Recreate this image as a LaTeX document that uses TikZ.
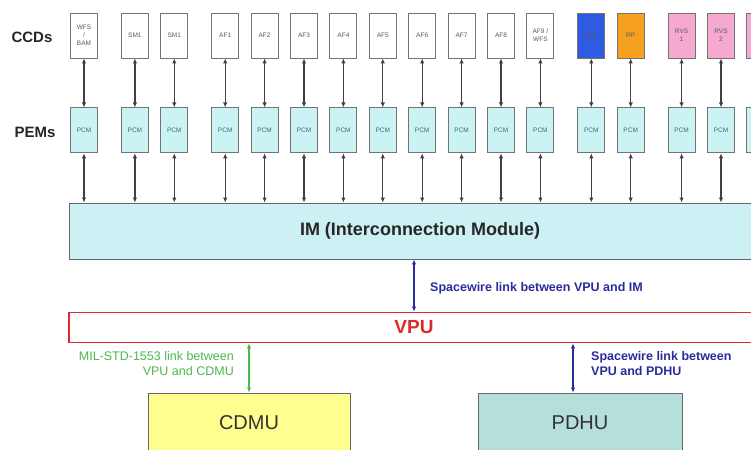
\documentclass[tikz,border=0pt]{standalone}
\usepackage{fontspec}
\setmainfont{Liberation Sans}
\usetikzlibrary{positioning, arrows.meta}

\definecolor{pcmcyan}{HTML}{CCF3F3}
\definecolor{imcyan}{HTML}{CCF0F3}
\definecolor{bpblue}{HTML}{2F5BE3}
\definecolor{rporange}{HTML}{F5A01E}
\definecolor{rvspink}{HTML}{F5A8D0}
\definecolor{vpured}{HTML}{DD2A2A}
\definecolor{linkblue}{HTML}{2B2B9C}
\definecolor{linkgreen}{HTML}{4CB84C}
\definecolor{cdmuyellow}{HTML}{FFFF90}
\definecolor{pdhuteal}{HTML}{B6DEDB}

\begin{document}
\begin{tikzpicture}[
    x=1pt, y=1pt,
    node distance=11.5pt,
    ccd/.style={
        draw=black!55,
        fill=white,
        line width=0.9pt,
        minimum width=27pt,
        minimum height=45pt,
        inner sep=0pt,
        align=center,
        text=black!65,
        font=\fontsize{6.5}{8}\selectfont
    },
    pcm/.style={ccd, fill=pcmcyan, text=teal!60!black!80},
    rowlabel/.style={font=\fontsize{15}{17}\selectfont\bfseries, text=black!85},
    bigbox/.style={draw=black!60, line width=0.9pt, inner sep=0pt},
    link/.style={{Latex[length=5pt,width=4.5pt]}-{Latex[length=5pt,width=4.5pt]}, draw=black!75, line width=1.2pt},
    note/.style={font=\fontsize{12.5}{15}\selectfont, inner sep=0pt}
]

\useasboundingbox (0,0) rectangle (751,-449);
\clip (0,0) rectangle (751,-449);

% CCD row
\node[ccd] (c1) at (84,-35.5) {WFS\\/\\BAM};
\node[ccd, right=23pt of c1] (c2) {SM1};
\node[ccd, right=of c2] (c3) {SM1};
\node[ccd, right=23pt of c3] (c4) {AF1};
\node[ccd, right=of c4] (c5) {AF2};
\node[ccd, right=of c5] (c6) {AF3};
\node[ccd, right=of c6] (c7) {AF4};
\node[ccd, right=of c7] (c8) {AF5};
\node[ccd, right=of c8] (c9) {AF6};
\node[ccd, right=of c9] (c10) {AF7};
\node[ccd, right=of c10] (c11) {AF8};
\node[ccd, right=of c11] (c12) {AF9 /\\WFS};
\node[ccd, fill=bpblue, right=23pt of c12] (c13) {BP};
\node[ccd, fill=rporange, right=of c13] (c14) {RP};
\node[ccd, fill=rvspink, right=23pt of c14] (c15) {RVS\\1};
\node[ccd, fill=rvspink, right=of c15] (c16) {RVS\\2};
\node[ccd, fill=rvspink, right=of c16] (c17) {RVS\\3};

% PEM row
\node[pcm, below=49pt of c1] (p1) {PCM};
\node[pcm, below=49pt of c2] (p2) {PCM};
\node[pcm, below=49pt of c3] (p3) {PCM};
\node[pcm, below=49pt of c4] (p4) {PCM};
\node[pcm, below=49pt of c5] (p5) {PCM};
\node[pcm, below=49pt of c6] (p6) {PCM};
\node[pcm, below=49pt of c7] (p7) {PCM};
\node[pcm, below=49pt of c8] (p8) {PCM};
\node[pcm, below=49pt of c9] (p9) {PCM};
\node[pcm, below=49pt of c10] (p10) {PCM};
\node[pcm, below=49pt of c11] (p11) {PCM};
\node[pcm, below=49pt of c12] (p12) {PCM};
\node[pcm, below=49pt of c13] (p13) {PCM};
\node[pcm, below=49pt of c14] (p14) {PCM};
\node[pcm, below=49pt of c15] (p15) {PCM};
\node[pcm, below=49pt of c16] (p16) {PCM};
\node[pcm, below=49pt of c17] (p17) {PCM};

\node[rowlabel] (ccds) at (32,-37) {CCDs};
\node[rowlabel] (pems) at (35,-132) {PEMs};

% modules
\node[bigbox, fill=imcyan, minimum width=702pt, minimum height=56pt,
      font=\fontsize{18}{20}\selectfont\bfseries, text=black!85] (im) at (420,-231)
      {IM (Interconnection Module)};
\node[draw=vpured, line width=1.8pt, fill=white, minimum width=690pt, minimum height=30pt,
      inner sep=0pt, font=\fontsize{19}{21}\selectfont\bfseries, text=vpured] (vpu) at (414,-327.5) {VPU};
\node[bigbox, fill=cdmuyellow, minimum width=202pt, minimum height=60pt,
      font=\fontsize{20}{22}\selectfont, text=black!80] (cdmu) at (249,-423) {CDMU};
\node[bigbox, fill=pdhuteal, minimum width=204pt, minimum height=60pt,
      font=\fontsize{20}{22}\selectfont, text=black!80] (pdhu) at (580,-423) {PDHU};

% CCD to PEM links
\draw[link] (c1.south) -- (p1.north);
\draw[link] (c2.south) -- (p2.north);
\draw[link] (c3.south) -- (p3.north);
\draw[link] (c4.south) -- (p4.north);
\draw[link] (c5.south) -- (p5.north);
\draw[link] (c6.south) -- (p6.north);
\draw[link] (c7.south) -- (p7.north);
\draw[link] (c8.south) -- (p8.north);
\draw[link] (c9.south) -- (p9.north);
\draw[link] (c10.south) -- (p10.north);
\draw[link] (c11.south) -- (p11.north);
\draw[link] (c12.south) -- (p12.north);
\draw[link] (c13.south) -- (p13.north);
\draw[link] (c14.south) -- (p14.north);
\draw[link] (c15.south) -- (p15.north);
\draw[link] (c16.south) -- (p16.north);
\draw[link] (c17.south) -- (p17.north);

% PEM to IM links
\draw[link] (p1.south) -- (p1.south |- im.north);
\draw[link] (p2.south) -- (p2.south |- im.north);
\draw[link] (p3.south) -- (p3.south |- im.north);
\draw[link] (p4.south) -- (p4.south |- im.north);
\draw[link] (p5.south) -- (p5.south |- im.north);
\draw[link] (p6.south) -- (p6.south |- im.north);
\draw[link] (p7.south) -- (p7.south |- im.north);
\draw[link] (p8.south) -- (p8.south |- im.north);
\draw[link] (p9.south) -- (p9.south |- im.north);
\draw[link] (p10.south) -- (p10.south |- im.north);
\draw[link] (p11.south) -- (p11.south |- im.north);
\draw[link] (p12.south) -- (p12.south |- im.north);
\draw[link] (p13.south) -- (p13.south |- im.north);
\draw[link] (p14.south) -- (p14.south |- im.north);
\draw[link] (p15.south) -- (p15.south |- im.north);
\draw[link] (p16.south) -- (p16.south |- im.north);
\draw[link] (p17.south) -- (p17.south |- im.north);

% bus links
\draw[link, draw=linkblue] (vpu.north) -- (vpu.north |- im.south);
\draw[link, draw=linkgreen] (cdmu.north) -- (cdmu.north |- vpu.south);
\draw[link, draw=linkblue] ([xshift=-7pt]pdhu.north) -- ([xshift=-7pt]pdhu.north |- vpu.south);

\node[note, anchor=west, text=linkblue, font=\fontsize{12.5}{15}\selectfont\bfseries] (imlink) at (430,-288)
    {Spacewire link between VPU and IM};
\node[note, anchor=east, align=right, text=linkgreen] (cdmulink) at (234,-363.5)
    {MIL-STD-1553 link between\\VPU and CDMU};
\node[note, anchor=west, align=left, text=linkblue, font=\fontsize{12.5}{15}\selectfont\bfseries] (pdhulink) at (591,-363.5)
    {Spacewire link between\\VPU and PDHU};

\end{tikzpicture}
\end{document}
